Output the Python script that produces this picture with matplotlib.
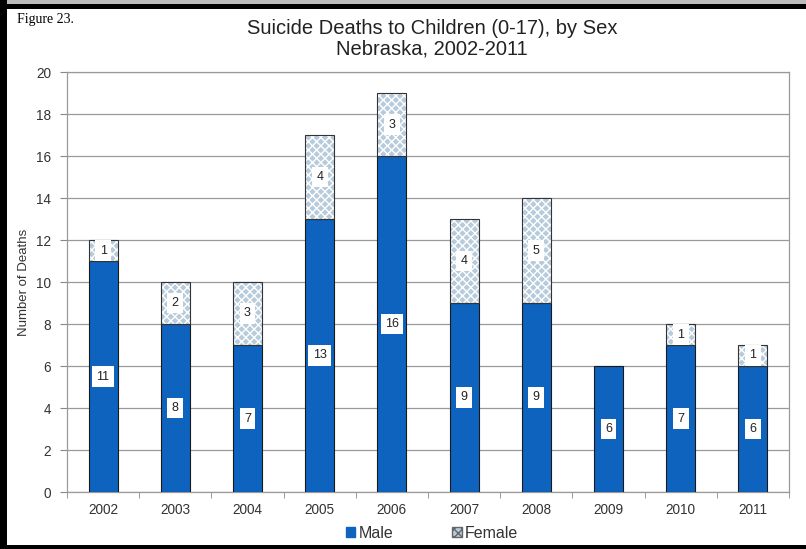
import matplotlib
matplotlib.use("Agg")
import matplotlib.pyplot as plt
from matplotlib.patches import Rectangle, Patch
import numpy as np

years = ["2002", "2003", "2004", "2005", "2006", "2007", "2008", "2009", "2010", "2011"]
male = [11, 8, 7, 13, 16, 9, 9, 6, 7, 6]
female = [1, 2, 3, 4, 3, 4, 5, 0, 1, 1]
y_ticks = [0, 2, 4, 6, 8, 10, 12, 14, 16, 18, 20]

MALE_COLOR = "#0d63bd"
FEMALE_COLOR = "#b7cbdc"
TEXT_COLOR = "#333333"

plt.rcParams["font.family"] = ["Liberation Sans", "DejaVu Sans"]
plt.rcParams["hatch.linewidth"] = 1.0

W, H = 806, 549
fig = plt.figure(figsize=(W / 100, H / 100), dpi=100)
ax = fig.add_axes([67 / W, 1 - 492 / H, (789 - 67) / W, (492 - 72) / H])

x = np.arange(len(years))
bw = 0.4
ax.bar(x, male, width=bw, color=MALE_COLOR, edgecolor="#1a1a1a", linewidth=0.8, zorder=3)
# female segments: white dotted hatch on a pale blue fill, then a dark outline on top
fmask = [f > 0 for f in female]
xf = x[fmask]
fv = [f for f in female if f > 0]
mb = [m for m, f in zip(male, female) if f > 0]
ax.bar(xf, fv, width=bw, bottom=mb, color=FEMALE_COLOR, edgecolor="white",
       linewidth=0, hatch="xxxx", zorder=3)
ax.bar(xf, fv, width=bw, bottom=mb, fill=False, edgecolor="#333333", linewidth=0.8, zorder=4)

box = dict(boxstyle="square,pad=0.35", facecolor="white", edgecolor="none")
for i, (m, f) in enumerate(zip(male, female)):
    ax.text(i, m / 2, str(m), ha="center", va="center", fontsize=9, color="#222222",
            bbox=box, zorder=5)
    if f > 0:
        ax.text(i, m + f / 2, str(f), ha="center", va="center", fontsize=9,
                color="#222222", bbox=box, zorder=5)

ax.set_xlim(-0.5, len(years) - 0.5)
ax.set_ylim(0, 20)
ax.set_yticks(y_ticks)
ax.set_xticks(x)
ax.set_xticklabels(years)
ax.set_xticks(np.arange(-0.5, len(years), 1.0), minor=True)
ax.tick_params(axis="x", which="major", length=0, pad=8, labelsize=9.8, labelcolor=TEXT_COLOR)
ax.tick_params(axis="x", which="minor", length=4, color="#888888", direction="out")
ax.tick_params(axis="y", length=5, color="#888888", direction="out", labelsize=9.8,
               labelcolor=TEXT_COLOR, pad=6.5)
ax.yaxis.grid(True, color="#9a9a9a", linewidth=0.9, zorder=0)
ax.set_axisbelow(True)
for sp in ax.spines.values():
    sp.set_color("#9a9a9a")
    sp.set_linewidth(0.9)

ax.set_ylabel("Number of Deaths", fontsize=9.5, color=TEXT_COLOR, labelpad=4)

fig.text(432 / W, 1 - 28 / H, "Suicide Deaths to Children (0-17), by Sex",
         ha="center", va="center", fontsize=14.5, color="#222222")
fig.text(432 / W, 1 - 49 / H, "Nebraska, 2002-2011",
         ha="center", va="center", fontsize=14.5, color="#222222")
fig.text(17 / W, 1 - 20 / H, "Figure 23.", ha="left", va="center", fontsize=10,
         family=["Liberation Serif", "DejaVu Serif"], color="black")

handles = [Patch(facecolor=MALE_COLOR, edgecolor=MALE_COLOR, label="Male"),
           Patch(facecolor=FEMALE_COLOR, edgecolor="#666666", hatch="xxxx", label="Female")]
fig.legend(handles=handles, loc="center", bbox_to_anchor=(432 / W, 1 - 533 / H), ncol=2,
           frameon=False, fontsize=11.5, handlelength=0.6, handleheight=0.6,
           handletextpad=0.2, columnspacing=3.7, labelcolor=TEXT_COLOR)

# black frame around the figure
for (x0, y0, w, h) in [(0, 0, 7, H), (0, 4, W, 5), (0, 545, W, 4)]:
    fig.patches.append(Rectangle((x0 / W, 1 - (y0 + h) / H), w / W, h / H,
                                 transform=fig.transFigure, facecolor="black",
                                 edgecolor="none", zorder=10))
fig.patches.append(Rectangle((0, 1 - 4 / H), 1, 4 / H, transform=fig.transFigure,
                             facecolor="#bbbbbb", edgecolor="none", zorder=9))

fig.savefig("out.png", dpi=100)
